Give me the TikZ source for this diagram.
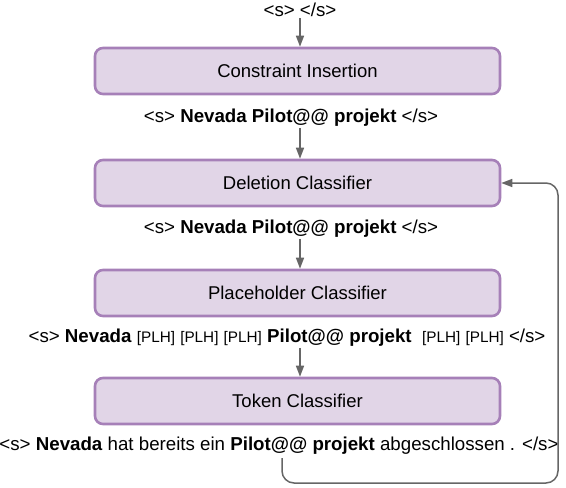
\documentclass[tikz,border=0pt]{standalone}
\usepackage{fontspec}
\setmainfont{Liberation Sans}
\usetikzlibrary{arrows.meta}
\definecolor{boxline}{HTML}{A680B8}
\definecolor{boxfill}{HTML}{E1D5E7}
\definecolor{connc}{HTML}{666666}
\begin{document}
\begin{tikzpicture}[x=1pt,y=-1pt,
  box/.style={draw=boxline, fill=boxfill, line width=2.6pt, rounded corners=8pt,
    minimum width=405pt, minimum height=46pt, inner sep=0pt, font=\fontsize{18.5}{21}\selectfont},
  lbl/.style={font=\fontsize{18.7}{21}\selectfont, inner sep=1pt},
  conn/.style={draw=connc, line width=1.5pt, -{Triangle[length=11pt,width=8pt]}}]
\useasboundingbox (0,0) rectangle (566,488);
\newcommand{\PLH}{{\fontsize{15.3}{16}\selectfont[PLH]}}
\node[box] (b1) at (297.5,71) {Constraint Insertion};
\node[box] (b2) at (297.5,183) {Deletion Classifier};
\node[box] (b3) at (297.5,293) {Placeholder Classifier};
\node[box] (b4) at (297.5,401) {Token Classifier};
\node[lbl] (l0) at (300,10) {<s> </s>};
\node[lbl] (l1) at (291,118) {<s> \textbf{Nevada Pilot@@ projekt} </s>};
\node[lbl] (l2) at (291,229) {<s> \textbf{Nevada Pilot@@ projekt} </s>};
\node[lbl] (l3) at (287,338) {<s> \textbf{Nevada} \PLH{} \PLH{} \PLH{} \textbf{Pilot@@ projekt} \ \PLH{} \PLH{} </s>};
\node[lbl] (l4) at (279,446) {<s> \textbf{Nevada} hat bereits ein \textbf{Pilot@@ projekt} abgeschlossen . </s>};
\draw[conn] (l0.south -| 300,0) -- (b1.north -| 300,0);
\draw[conn] (l1.south -| 300,0) -- (b2.north -| 300,0);
\draw[conn] (l2.south -| 300,0) -- (b3.north -| 300,0);
\draw[conn] (l3.south -| 300,0) -- (b4.north -| 300,0);
\coordinate (fb) at (282,458);
\draw[conn, rounded corners=12pt] (fb) -- (282,483) -- (558,483) -- (558,183) -- (b2.east);
\end{tikzpicture}
\end{document}
